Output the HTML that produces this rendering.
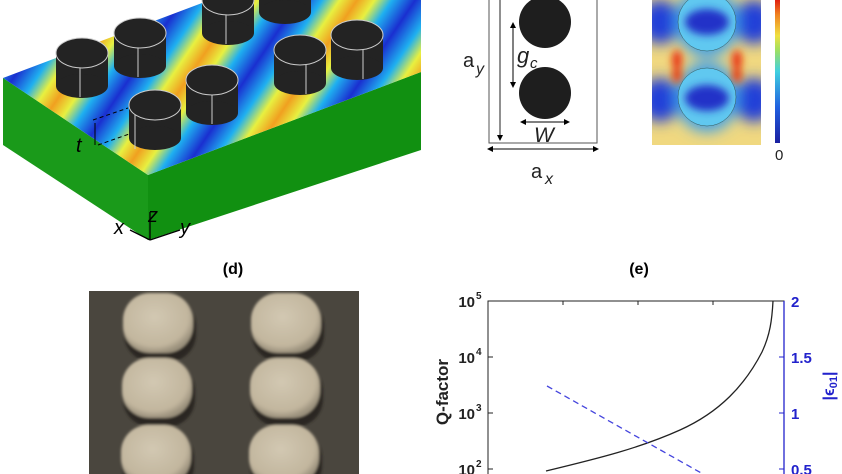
<!DOCTYPE html>
<html><head><meta charset="utf-8"><style>
html,body{margin:0;padding:0;background:#fff;width:842px;height:474px;overflow:hidden}
svg{display:block}
text{font-family:"Liberation Sans",sans-serif}
</style></head><body>
<svg width="842" height="474" viewBox="0 0 842 474" xmlns="http://www.w3.org/2000/svg">
<defs>
<linearGradient id="stripe" gradientUnits="userSpaceOnUse" x1="10" y1="83" x2="90" y2="137" spreadMethod="repeat">
<stop offset="0" stop-color="#1a2fd0"/><stop offset="0.2" stop-color="#1fb0f0"/><stop offset="0.35" stop-color="#e8f040"/>
<stop offset="0.5" stop-color="#f0a020"/><stop offset="0.65" stop-color="#e8f040"/><stop offset="0.8" stop-color="#1fb0f0"/><stop offset="1" stop-color="#1a2fd0"/>
</linearGradient>
<linearGradient id="cbar" x1="0" y1="1" x2="0" y2="0">
<stop offset="0" stop-color="#1a1fa0"/><stop offset="0.25" stop-color="#2060e0"/><stop offset="0.5" stop-color="#40d0e0"/><stop offset="0.65" stop-color="#a0e060"/><stop offset="0.75" stop-color="#f0e040"/><stop offset="0.9" stop-color="#f08020"/><stop offset="1" stop-color="#e02010"/>
</linearGradient>
<filter id="bl" x="-50%" y="-50%" width="200%" height="200%"><feGaussianBlur stdDeviation="7"/></filter>
<filter id="bl2" x="-50%" y="-50%" width="200%" height="200%"><feGaussianBlur stdDeviation="4"/></filter>
<clipPath id="hm"><rect x="652" y="0" width="109" height="145"/></clipPath>
<clipPath id="sem"><rect x="89" y="291" width="270" height="183"/></clipPath>
<filter id="sb"><feGaussianBlur stdDeviation="1.2"/></filter>
<radialGradient id="bump" cx="0.45" cy="0.4" r="0.6"><stop offset="0" stop-color="#d2c8b2"/><stop offset="0.8" stop-color="#c2b69e"/><stop offset="1" stop-color="#9a907c"/></radialGradient>
</defs>

<!-- (a) slab -->
<polygon points="3,78 148,175 148,240 3,145" fill="#1a9a1a"/>
<polygon points="148,175 421,72 421,150 148,240" fill="#119011"/>
<polygon points="3,78 210,0 421,0 421,72 148,175" fill="url(#stripe)"/>
<g stroke="#000" stroke-width="1" stroke-dasharray="4,3" fill="none">
<line x1="93" y1="120" x2="128" y2="108"/><line x1="98" y1="145" x2="132" y2="133"/>
</g>
<line x1="95" y1="123" x2="95" y2="145" stroke="#000"/>
<text x="76" y="152" font-family="Liberation Serif" font-style="italic" font-size="20">t</text>
<g fill="#232323" stroke="#ccc" stroke-width="1">
<g transform="translate(82,53)"><rect x="-26" y="0" width="52" height="33" stroke="none"/><ellipse cx="0" cy="33" rx="26" ry="12" stroke="none"/><line x1="-2" y1="5" x2="-2" y2="44"/><ellipse cx="0" cy="0" rx="26" ry="15"/></g>
<g transform="translate(140,33)"><rect x="-26" y="0" width="52" height="33" stroke="none"/><ellipse cx="0" cy="33" rx="26" ry="12" stroke="none"/><line x1="-2" y1="5" x2="-2" y2="44"/><ellipse cx="0" cy="0" rx="26" ry="15"/></g>
<g transform="translate(228,0)"><rect x="-26" y="0" width="52" height="33" stroke="none"/><ellipse cx="0" cy="33" rx="26" ry="12" stroke="none"/><line x1="-2" y1="5" x2="-2" y2="44"/><ellipse cx="0" cy="0" rx="26" ry="15"/></g>
<g transform="translate(285,-8)"><rect x="-26" y="0" width="52" height="20" stroke="none"/><ellipse cx="0" cy="20" rx="26" ry="12" stroke="none"/></g>
<g transform="translate(300,50)"><rect x="-26" y="0" width="52" height="33" stroke="none"/><ellipse cx="0" cy="33" rx="26" ry="12" stroke="none"/><line x1="6" y1="5" x2="6" y2="44"/><ellipse cx="0" cy="0" rx="26" ry="15"/></g>
<g transform="translate(357,35)"><rect x="-26" y="0" width="52" height="33" stroke="none"/><ellipse cx="0" cy="33" rx="26" ry="12" stroke="none"/><line x1="6" y1="5" x2="6" y2="44"/><ellipse cx="0" cy="0" rx="26" ry="15"/></g>
<g transform="translate(212,80)"><rect x="-26" y="0" width="52" height="33" stroke="none"/><ellipse cx="0" cy="33" rx="26" ry="12" stroke="none"/><line x1="0" y1="5" x2="0" y2="44"/><ellipse cx="0" cy="0" rx="26" ry="15"/></g>
<g transform="translate(155,105)"><rect x="-26" y="0" width="52" height="33" stroke="none"/><ellipse cx="0" cy="33" rx="26" ry="12" stroke="none"/><line x1="-20" y1="10" x2="-20" y2="44"/><ellipse cx="0" cy="0" rx="26" ry="15"/></g>
</g>
<g font-family="Liberation Serif" font-style="italic" font-size="20">
<text x="114" y="234">x</text><text x="148" y="222">z</text><text x="180" y="234">y</text></g>
<g stroke="#000" stroke-width="1.3"><line x1="150" y1="240" x2="150" y2="212"/><line x1="150" y1="240" x2="180" y2="230"/><line x1="150" y1="240" x2="130" y2="230"/></g>

<!-- (b) -->
<rect x="489" y="-2" width="108" height="145" fill="none" stroke="#555" stroke-width="1"/>
<line x1="500" y1="0" x2="500" y2="140" stroke="#222"/>
<polygon points="497,135 503,135 500,141" fill="#000"/>
<circle cx="545" cy="22" r="26" fill="#1e1e1e"/>
<circle cx="545" cy="93" r="26" fill="#1e1e1e"/>
<line x1="513" y1="26" x2="513" y2="84" stroke="#000"/>
<polygon points="510,28 516,28 513,22" fill="#000"/><polygon points="510,82 516,82 513,88" fill="#000"/>
<line x1="524" y1="122" x2="566" y2="122" stroke="#000"/>
<polygon points="526,119 526,125 520,122" fill="#000"/><polygon points="564,119 564,125 570,122" fill="#000"/>
<line x1="490" y1="149" x2="596" y2="149" stroke="#000"/>
<polygon points="493,146 493,152 487,149" fill="#000"/><polygon points="593,146 593,152 599,149" fill="#000"/>
<text x="463" y="67" font-size="20" fill="#222">a</text><text x="476" y="74" font-family="Liberation Serif" font-style="italic" font-size="16" fill="#222">y</text>
<text x="517" y="63" font-family="Liberation Serif" font-style="italic" font-size="22" fill="#222">g</text><text x="530" y="68" font-family="Liberation Serif" font-style="italic" font-size="15" fill="#222">c</text>
<text x="534" y="142" font-family="Liberation Serif" font-style="italic" font-size="21" fill="#222">W</text>
<text x="531" y="178" font-size="20" fill="#222">a</text><text x="545" y="184" font-family="Liberation Serif" font-style="italic" font-size="16" fill="#222">x</text>

<!-- (c) heatmap -->
<g clip-path="url(#hm)">
<rect x="652" y="0" width="109" height="145" fill="#f0d880"/>
<g filter="url(#bl)">
<ellipse cx="660" cy="22" rx="20" ry="22" fill="#2040d8"/><ellipse cx="754" cy="22" rx="20" ry="22" fill="#2040d8"/>
<ellipse cx="660" cy="100" rx="20" ry="22" fill="#2040d8"/><ellipse cx="754" cy="100" rx="20" ry="22" fill="#2040d8"/>
<ellipse cx="707" cy="22" rx="32" ry="35" fill="#40a0e8"/><ellipse cx="707" cy="97" rx="32" ry="35" fill="#40a0e8"/>
</g>
<g filter="url(#bl2)"><ellipse cx="677" cy="60" rx="5" ry="10" fill="#e83010"/><ellipse cx="737" cy="60" rx="5" ry="10" fill="#e83010"/>
<ellipse cx="677" cy="75" rx="5" ry="8" fill="#e84010"/><ellipse cx="737" cy="75" rx="5" ry="8" fill="#e84010"/></g>
<circle cx="707" cy="22" r="29" fill="#60c8f0" stroke="#355" stroke-width="0.5"/>
<circle cx="707" cy="97" r="29" fill="#60c8f0" stroke="#355" stroke-width="0.5"/>
<g filter="url(#bl2)"><ellipse cx="707" cy="22" rx="22" ry="13" fill="#2030c8"/><ellipse cx="707" cy="98" rx="22" ry="13" fill="#2030c8"/></g>
</g>
<rect x="775" y="0" width="5" height="143" fill="url(#cbar)"/>
<text x="775" y="160" font-size="15" fill="#222">0</text>

<!-- (d) SEM -->
<text x="233" y="274" font-size="16" font-weight="bold" text-anchor="middle">(d)</text>
<rect x="89" y="291" width="270" height="183" fill="#4a463e"/>
<g clip-path="url(#sem)" filter="url(#sb)">
<g fill="#2a2822"><rect x="124" y="298" width="72" height="64" rx="28"/><rect x="252" y="298" width="72" height="64" rx="28"/><rect x="123" y="363" width="72" height="64" rx="28"/><rect x="251" y="363" width="72" height="64" rx="28"/><rect x="122" y="430" width="72" height="64" rx="28"/><rect x="250" y="430" width="72" height="64" rx="28"/></g>
<g fill="url(#bump)"><rect x="123" y="293" width="70" height="60" rx="27"/><rect x="251" y="293" width="70" height="60" rx="27"/><rect x="122" y="358" width="70" height="60" rx="27"/><rect x="250" y="358" width="70" height="60" rx="27"/><rect x="121" y="425" width="70" height="60" rx="27"/><rect x="249" y="425" width="70" height="60" rx="27"/></g>
</g>

<!-- (e) plot -->
<text x="639" y="274" font-size="16" font-weight="bold" text-anchor="middle">(e)</text>
<rect x="488" y="301" width="296" height="180" fill="none" stroke="#222" stroke-width="1"/>
<line x1="784" y1="301" x2="784" y2="474" stroke="#2222cc" stroke-width="1.3"/>
<g stroke="#222"><line x1="563" y1="301" x2="563" y2="305"/><line x1="638" y1="301" x2="638" y2="305"/><line x1="713" y1="301" x2="713" y2="305"/>
<line x1="488" y1="357" x2="493" y2="357"/><line x1="488" y1="413" x2="493" y2="413"/><line x1="488" y1="469" x2="493" y2="469"/></g>
<g stroke="#2222cc"><line x1="779" y1="357" x2="784" y2="357"/><line x1="779" y1="413" x2="784" y2="413"/><line x1="779" y1="469" x2="784" y2="469"/></g>
<g font-size="15" font-weight="bold" fill="#222" text-anchor="end">
<text x="475" y="307">10</text><text x="475" y="363">10</text><text x="475" y="419">10</text><text x="475" y="475">10</text></g>
<g font-size="10" font-weight="bold" fill="#222"><text x="476" y="299">5</text><text x="476" y="355">4</text><text x="476" y="411">3</text><text x="476" y="467">2</text></g>
<g font-size="15" font-weight="bold" fill="#2222cc"><text x="791" y="307">2</text><text x="791" y="363">1.5</text><text x="791" y="419">1</text><text x="791" y="475">0.5</text></g>
<text transform="translate(448,392) rotate(-90)" font-size="17" font-weight="bold" text-anchor="middle" fill="#222">Q-factor</text>
<text transform="translate(834,386) rotate(-90)" font-size="16" font-weight="bold" text-anchor="middle" fill="#2222cc">|ϵ<tspan font-size="11" dy="3">01</tspan><tspan dy="-3">|</tspan></text>
<path d="M546,471 C600,458 640,448 680,430 C720,412 745,385 762,352 C770,335 772,320 773,301" fill="none" stroke="#222" stroke-width="1.3"/>
<line x1="547" y1="386" x2="703" y2="474" stroke="#4444dd" stroke-width="1.3" stroke-dasharray="6,4"/>
</svg>
</body></html>
